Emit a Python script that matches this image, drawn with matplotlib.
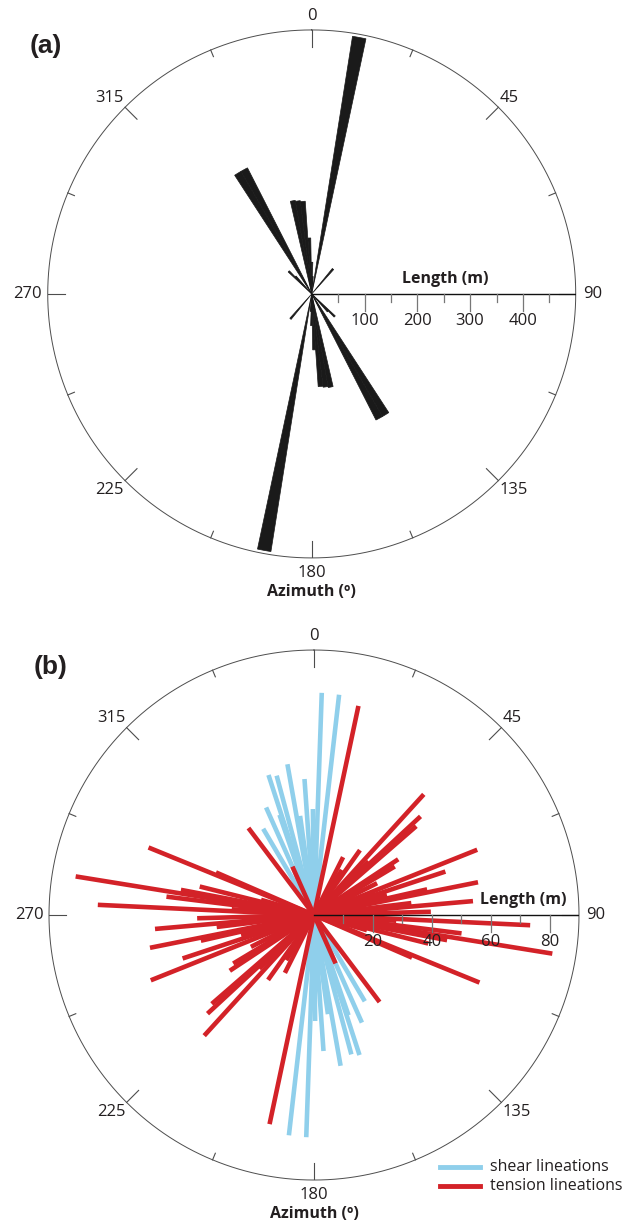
import numpy as np
import matplotlib.pyplot as plt
from matplotlib.lines import Line2D

plt.rcParams['font.family'] = ['Open Sans', 'DejaVu Sans']

# (a) rose diagram, total length (m) per 3 deg azimuth bin, axial data (plotted at az and az+180)
rose_az = [0.5, 3.5, 10.5, 40.5, 134.5, 137.5, 148.5, 151.5, 168.5, 171.5, 174.5, 177.5]
rose_len = [60, 33, 494, 62, 61, 45, 268, 268, 180, 178, 176, 106]
rose_bin = 3.0

# (b) individual lineations: azimuth (deg) and length (m), axial
shear_az = [2, 6.5, 329.5, 336, 341, 342, 345, 350, 352, 356, 359.4]
shear_len = [75.5, 75.3, 34, 40, 36, 50, 49, 52, 34, 46.3, 36]
tension_az = [12, 26.7, 31.6, 35.3, 42.3, 45.5, 47.2, 49, 56.5, 59, 63.2, 68.2, 71.7,
              74.6, 77.2, 78.7, 83, 85, 88.4, 92.7, 94, 97.1, 99.2, 100, 100.7, 104,
              106, 112.2, 113.5, 143, 148, 156]
tension_len = [72.6, 22, 18, 27, 55.4, 26, 49.3, 46, 34.3, 32, 24, 59.7, 47,
               25.7, 39.4, 56.8, 33.3, 54.2, 39.7, 73.5, 28, 50.5, 82, 23, 46, 40,
               18.7, 60.7, 36.3, 37, 5, 18]

az_labels = [0, 45, 90, 135, 180, 225, 270, 315]
ticks_a = [50, 100, 150, 200, 250, 300, 350, 400, 450]
labels_a = [100, 200, 300, 400]
ticks_b = [10, 20, 30, 40, 50, 60, 70, 80]
labels_b = [20, 40, 60, 80]

BLUE = '#8fcfeb'
RED = '#d32228'
LINE = '#4d4d4d'
TXT = '#231f20'

fig = plt.figure(figsize=(6.33, 12.26), dpi=100)


def draw_frame(rect, R, ticks, tick_labels, length_x):
    cax = fig.add_axes(rect)
    cax.set_xlim(-R, R)
    cax.set_ylim(-R, R)
    cax.set_aspect('equal')
    cax.axis('off')
    cax.patch.set_alpha(0)
    t = np.linspace(0, 2 * np.pi, 721)
    cax.plot(R * np.sin(t), R * np.cos(t), color=LINE, lw=0.7, clip_on=False)
    # azimuth ticks, inward
    for a in np.arange(0, 360, 22.5):
        L = 0.064 * R if a % 45 == 0 else 0.027 * R
        s, c = np.sin(np.radians(a)), np.cos(np.radians(a))
        cax.plot([R * s, (R - L) * s], [R * c, (R - L) * c], color=LINE, lw=0.8)
    pos = {0: ((0, 4), 'center', 'bottom'), 45: ((1, 1), 'left', 'bottom'),
           90: ((5, 0), 'left', 'center'), 135: ((1, -1), 'left', 'top'),
           180: ((0, -5), 'center', 'top'), 225: ((-1, -1), 'right', 'top'),
           270: ((-4, 0), 'right', 'center'), 315: ((-1, 1), 'right', 'bottom')}
    for a in az_labels:
        off, ha, va = pos[a]
        xy = (R * np.sin(np.radians(a)), R * np.cos(np.radians(a)))
        cax.annotate(str(a), xy=xy, xytext=off, textcoords='offset points',
                     ha=ha, va=va, fontsize=12, color=TXT)
    # length axis, drawn over the bars
    cax.plot([0, R], [0, 0], color='#111111', lw=1.0)
    for v in ticks:
        L = 0.064 * R if v in tick_labels else 0.03 * R
        cax.plot([v, v], [0, -L], color='#777777', lw=0.9)
    for v in tick_labels:
        cax.text(v, -0.102 * R, str(v), ha='center', va='center', fontsize=12, color=TXT)
    cax.text(length_x * R, 0.057 * R, 'Length (m)', ha='center', va='center',
             fontsize=11.5, fontweight='bold', color=TXT)
    cax.text(0, -1.13 * R, 'Azimuth (º)', ha='center', va='center',
             fontsize=11.5, fontweight='bold', color=TXT)
    return cax


def polar_axes(rect, R):
    ax = fig.add_axes(rect, projection='polar')
    ax.set_theta_zero_location('N')
    ax.set_theta_direction(-1)
    ax.set_ylim(0, R)
    ax.axis('off')
    ax.patch.set_alpha(0)
    return ax


# ---- panel (a)
rect_a = [0.0754, 0.5449, 0.8341, 0.4307]
R_a = 500
ax_a = polar_axes(rect_a, R_a)
az_all = np.concatenate([rose_az, np.array(rose_az) + 180])
len_all = np.concatenate([rose_len, rose_len])
ax_a.bar(np.radians(az_all), len_all, width=np.radians(rose_bin), bottom=0,
         color='#1a1a1a', edgecolor='#1a1a1a', linewidth=0.5, align='center')
draw_frame(rect_a, R_a, ticks_a, labels_a, 0.505)
fig.text(0.073, 1 - 46 / 1226, '(a)', family='Liberation Sans', fontsize=19,
         fontweight='bold', ha='center', va='center', color=TXT)

# ---- panel (b)
rect_b = [0.0774, 0.0375, 0.8373, 0.4323]
R_b = 90
ax_b = polar_axes(rect_b, R_b)
for az_list, len_list, col in [(shear_az, shear_len, BLUE), (tension_az, tension_len, RED)]:
    for a, r in zip(az_list, len_list):
        for th in (a, a + 180):
            ax_b.plot([np.radians(th)] * 2, [0, r], color=col, lw=3.3,
                      solid_capstyle='butt')
draw_frame(rect_b, R_b, ticks_b, labels_b, 0.79)
fig.text(0.08, 1 - 667 / 1226, '(b)', family='Liberation Sans', fontsize=19,
         fontweight='bold', ha='center', va='center', color=TXT)

# legend
for y, col, lab in [(1167, BLUE, 'shear lineations'), (1186, RED, 'tension lineations')]:
    yf = 1 - y / 1226
    fig.add_artist(Line2D([440 / 633, 480 / 633], [yf, yf], color=col, lw=3.5,
                          transform=fig.transFigure))
    fig.text(490 / 633, yf, lab, fontsize=11.5, ha='left', va='center', color=TXT)

fig.savefig('out.png', dpi=100)
